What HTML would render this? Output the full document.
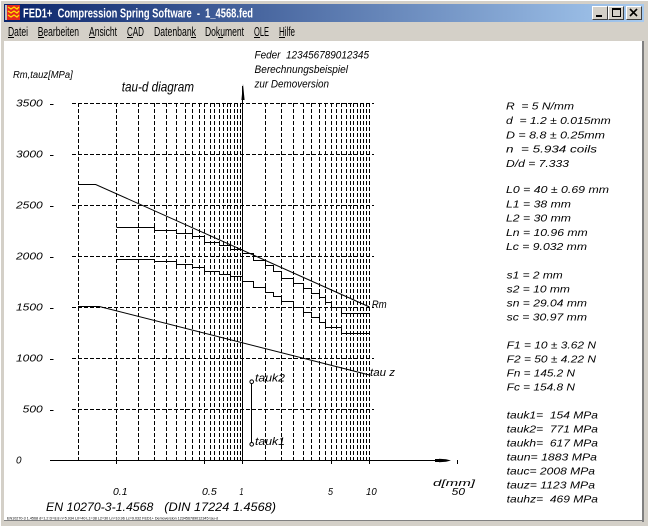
<!DOCTYPE html>
<html><head><meta charset="utf-8"><style>
html,body{margin:0;padding:0;background:#D4D0C8;}
svg{display:block;}
text{white-space:pre;}
.c{font-family:"Liberation Sans",Arial,sans-serif;font-style:italic;fill:#000;}
.m{font-family:"Liberation Sans",Arial,sans-serif;fill:#000;font-size:12.5px;}
</style></head><body>
<svg width="648" height="526" viewBox="0 0 648 526" xmlns="http://www.w3.org/2000/svg">
<defs>
<linearGradient id="tb" x1="0" y1="0" x2="1" y2="0">
<stop offset="0" stop-color="#0A246A"/><stop offset="1" stop-color="#A6CAF0"/>
</linearGradient>
</defs>
<rect x="0" y="0" width="648" height="526" fill="#D4D0C8"/>
<rect x="0" y="0" width="648" height="1" fill="#FFFFFF"/>
<rect x="0" y="0" width="1" height="526" fill="#FFFFFF"/>
<!-- title bar -->
<rect x="4" y="4" width="640" height="18" fill="url(#tb)"/>
<!-- icon -->
<rect x="5" y="5" width="15" height="15" fill="#E4281E"/>
<rect x="5" y="5" width="2" height="15" fill="#C0C0C0"/>
<polyline points="8,7 11,9 14,7 17,9 19,7" fill="none" stroke="#FFE000" stroke-width="1.3"/>
<polyline points="8,11 11,13 14,11 17,13 19,11" fill="none" stroke="#FFE000" stroke-width="1.3"/>
<polyline points="8,15 11,17 14,15 17,17 19,15" fill="none" stroke="#FFE000" stroke-width="1.3"/>
<text x="23" y="17.5" font-family="Liberation Sans, Arial, sans-serif" font-weight="bold" font-size="12.5" fill="#FFFFFF" textLength="230" lengthAdjust="spacingAndGlyphs">FED1+  Compression Spring Software  -  1_4568.fed</text>
<!-- buttons -->
<g shape-rendering="crispEdges">
<rect x="592" y="6" width="16" height="14" fill="#D4D0C8"/>
<path d="M592.5,19.5 V6.5 H607.5" fill="none" stroke="#FFFFFF"/>
<path d="M592.5,19.5 H607.5 V6.5" fill="none" stroke="#404040"/>
<rect x="596" y="15" width="6" height="2" fill="#000"/>
<rect x="608" y="6" width="16" height="14" fill="#D4D0C8"/>
<path d="M608.5,19.5 V6.5 H623.5" fill="none" stroke="#FFFFFF"/>
<path d="M608.5,19.5 H623.5 V6.5" fill="none" stroke="#404040"/>
<rect x="612.5" y="8.5" width="8" height="8" fill="none" stroke="#000"/>
<rect x="612" y="8" width="9" height="2" fill="#000"/>
<rect x="626" y="6" width="16" height="14" fill="#D4D0C8"/>
<path d="M626.5,19.5 V6.5 H641.5" fill="none" stroke="#FFFFFF"/>
<path d="M626.5,19.5 H641.5 V6.5" fill="none" stroke="#404040"/>
</g>
<path d="M630,9 L637,16 M637,9 L630,16" stroke="#000" stroke-width="1.6"/>
<!-- menu -->
<text class="m" x="8" y="36" textLength="20" lengthAdjust="spacingAndGlyphs">Datei</text>
<text class="m" x="37.7" y="36" textLength="41.3" lengthAdjust="spacingAndGlyphs">Bearbeiten</text>
<text class="m" x="89" y="36" textLength="28" lengthAdjust="spacingAndGlyphs">Ansicht</text>
<text class="m" x="127" y="36" textLength="17" lengthAdjust="spacingAndGlyphs">CAD</text>
<text class="m" x="154" y="36" textLength="42" lengthAdjust="spacingAndGlyphs">Datenbank</text>
<text class="m" x="205" y="36" textLength="39" lengthAdjust="spacingAndGlyphs">Dokument</text>
<text class="m" x="254" y="36" textLength="15" lengthAdjust="spacingAndGlyphs">OLE</text>
<text class="m" x="279" y="36" textLength="16" lengthAdjust="spacingAndGlyphs">Hilfe</text>
<g fill="#000" shape-rendering="crispEdges">
<rect x="8" y="37" width="6" height="1"/>
<rect x="38" y="37" width="6" height="1"/>
<rect x="89" y="37" width="6" height="1"/>
<rect x="127" y="37" width="6" height="1"/>
<rect x="191" y="37" width="5" height="1"/>
<rect x="218" y="37" width="5" height="1"/>
<rect x="254" y="37" width="6" height="1"/>
<rect x="279" y="37" width="6" height="1"/>
</g>
<!-- client area -->
<rect x="4" y="41" width="638" height="479" fill="#FFFFFF"/>
<rect x="642" y="41" width="2" height="481" fill="#808080"/>
<rect x="4" y="520" width="640" height="1" fill="#808080"/>
<rect x="644" y="4" width="4" height="522" fill="#D4D0C8"/>

<!-- header text -->
<text class="c" x="254.5" y="58.7" font-size="11" textLength="114.5" lengthAdjust="spacingAndGlyphs">Feder  123456789012345</text>
<text class="c" x="254.5" y="73" font-size="11" textLength="93.5" lengthAdjust="spacingAndGlyphs">Berechnungsbeispiel</text>
<text class="c" x="254.5" y="87.3" font-size="11" textLength="74.5" lengthAdjust="spacingAndGlyphs">zur Demoversion</text>
<text class="c" x="13" y="78" font-size="10" textLength="59.7" lengthAdjust="spacingAndGlyphs">Rm,tauz[MPa]</text>
<text class="c" x="121.7" y="91.5" font-size="14" textLength="72.3" lengthAdjust="spacingAndGlyphs">tau-d diagram</text>

<!-- y labels -->
<g class="c" font-size="10">
<text x="16" y="106.5" textLength="26.7" lengthAdjust="spacingAndGlyphs">3500</text>
<text x="16" y="157.5" textLength="26.7" lengthAdjust="spacingAndGlyphs">3000</text>
<text x="16" y="208.5" textLength="26.7" lengthAdjust="spacingAndGlyphs">2500</text>
<text x="16" y="259.5" textLength="26.7" lengthAdjust="spacingAndGlyphs">2000</text>
<text x="16" y="310.5" textLength="26.7" lengthAdjust="spacingAndGlyphs">1500</text>
<text x="16" y="361.5" textLength="26.7" lengthAdjust="spacingAndGlyphs">1000</text>
<text x="22.7" y="412.5" textLength="20" lengthAdjust="spacingAndGlyphs">500</text>
<text x="16" y="463.5" textLength="5.5" lengthAdjust="spacingAndGlyphs">0</text>
</g>
<path d="M50,104.5 H53.5 M50,155.5 H53.5 M50,206.5 H53.5 M50,257.5 H53.5 M50,308.5 H53.5 M50,359.5 H53.5 M50,410.5 H53.5" stroke="#000" stroke-width="1" shape-rendering="crispEdges"/>

<!-- grid -->
<g stroke="#000" stroke-width="1" fill="none" stroke-dasharray="4 2" shape-rendering="crispEdges">
<path d="M72,103.5 H374 M72,154.5 H374 M72,205.5 H374 M72,256.5 H374 M72,307.5 H374 M72,358.5 H374 M72,409.5 H374"/>
<path d="M78.5,103 V460 M116.5,103 V460 M138.5,103 V460 M154.5,103 V460 M166.5,103 V460 M176.5,103 V460 M185.5,103 V460 M192.5,103 V460 M199.5,103 V460 M204.5,103 V460 M210.5,103 V460 M214.5,103 V460 M219.5,103 V460 M223.5,103 V460 M227.5,103 V460 M230.5,103 V460 M234.5,103 V460 M237.5,103 V460 M240.5,103 V460 M265.5,103 V460 M281.5,103 V460 M293.5,103 V460 M303.5,103 V460 M311.5,103 V460 M319.5,103 V460 M325.5,103 V460 M331.5,103 V460 M336.5,103 V460 M341.5,103 V460 M346.5,103 V460 M350.5,103 V460 M353.5,103 V460 M357.5,103 V460 M360.5,103 V460 M363.5,103 V460 M366.5,103 V460 M369.5,103 V460"/>
</g>

<!-- axes -->
<g stroke="#000" stroke-width="1" fill="none" shape-rendering="crispEdges">
<path d="M242.5,86 V460"/>
<path d="M50,460.5 H440"/>
<path d="M116.5,460 V464 M204.5,460 V464 M242.5,460 V464 M331.5,460 V464 M369.5,460 V464 M457.5,460 V464"/>
<path d="M435,459.5 H440 M435,461.5 H440"/>
</g>
<polygon points="243,84 244.6,100 241.4,100" fill="#000"/>
<polygon points="439,458.8 446,459.2 451,460.5 446,461.8 439,462.2" fill="#000"/>

<!-- x labels -->
<g class="c" font-size="10">
<text x="113" y="495" textLength="14.5" lengthAdjust="spacingAndGlyphs">0.1</text>
<text x="202" y="495" textLength="14.7" lengthAdjust="spacingAndGlyphs">0.5</text>
<text x="239.5" y="495" textLength="4" lengthAdjust="spacingAndGlyphs">1</text>
<text x="328" y="495" textLength="5" lengthAdjust="spacingAndGlyphs">5</text>
<text x="366" y="495" textLength="10.7" lengthAdjust="spacingAndGlyphs">10</text>
<text x="451.7" y="495" textLength="13.3" lengthAdjust="spacingAndGlyphs">50</text>
<text x="433" y="486" font-size="9.5" textLength="42" lengthAdjust="spacingAndGlyphs">d[mm]</text>
</g>
<text class="c" x="46" y="511" font-size="11.5" textLength="107.3" lengthAdjust="spacingAndGlyphs">EN 10270-3-1.4568</text>
<text class="c" x="164.3" y="511" font-size="11.5" textLength="111.7" lengthAdjust="spacingAndGlyphs">(DIN 17224 1.4568)</text>
<text x="7" y="519.5" font-family="Liberation Sans, Arial, sans-serif" font-size="4" fill="#000" textLength="211" lengthAdjust="spacingAndGlyphs">EN10270-3 1.4568 d=1.2 D=8.8 n=5.934 L0=40 L1=38 L2=30 Ln=10.96 Lc=9.032 FED1+ Demoversion 123456789012345 tau-d</text>

<!-- curves -->
<g stroke="#000" stroke-width="1" fill="none">
<path d="M78,184.5 H95.7 L369.5,307"/>
<path d="M78,306.5 H99.3 L369.5,375"/>
</g>
<g stroke="#000" stroke-width="1" fill="none" shape-rendering="crispEdges">
<path d="M116.5,227.5 H154.5 V230.5 H176.5 V233.5 H192.5 V236.5 H204.5 V242.5 H219.5 V245.5 H230.5 V249.5 H242.5 V253.5 H253.5 V260.5 H265.5 V265.5 H273.5 V271.5 H281.5 V278.5 H293.5 V283.5 H303.5 V288.5 H311.5 V293.5 H319.5 V297.5 H325.5 V302.5 H331.5 V307.5 H341.5 V313.5 H369.5"/>
<path d="M116.5,259.5 H154.5 V261.5 H176.5 V264.5 H192.5 V267.5 H204.5 V271.5 H219.5 V274.5 H230.5 V276.5 H242.5 V281.5 H253.5 V287.5 H265.5 V292.5 H273.5 V296.5 H281.5 V301.5 H293.5 V307.5 H303.5 V312.5 H311.5 V317.5 H319.5 V322.5 H325.5 V327.5 H341.5 V333.5 H369.5"/>
<path d="M251.5,382 V444"/>
</g>
<circle cx="251.7" cy="381.7" r="1.8" fill="#FFF" stroke="#000" stroke-width="1"/>
<circle cx="251.7" cy="444.3" r="1.8" fill="#FFF" stroke="#000" stroke-width="1"/>

<g class="c" font-size="11">
<text x="371.7" y="308" textLength="15" lengthAdjust="spacingAndGlyphs">Rm</text>
<text x="370" y="376" textLength="25" lengthAdjust="spacingAndGlyphs">tau z</text>
<text x="255" y="381.7" textLength="30" lengthAdjust="spacingAndGlyphs">tauk2</text>
<text x="255" y="445" textLength="30" lengthAdjust="spacingAndGlyphs">tauk1</text>
</g>

<!-- right panel -->
<g class="c" font-size="10.5">
<text x="506" y="109.5" textLength="68" lengthAdjust="spacingAndGlyphs">R  = 5 N/mm</text>
<text x="506" y="124" textLength="104.7" lengthAdjust="spacingAndGlyphs">d  = 1.2 ± 0.015mm</text>
<text x="506" y="138.5" textLength="99" lengthAdjust="spacingAndGlyphs">D = 8.8 ± 0.25mm</text>
<text x="506" y="152.5" textLength="91" lengthAdjust="spacingAndGlyphs">n  = 5.934 coils</text>
<text x="506" y="167" textLength="63" lengthAdjust="spacingAndGlyphs">D/d = 7.333</text>

<text x="506" y="193" textLength="103" lengthAdjust="spacingAndGlyphs">L0 = 40 ± 0.69 mm</text>
<text x="506" y="207.5" textLength="65" lengthAdjust="spacingAndGlyphs">L1 = 38 mm</text>
<text x="506" y="221.5" textLength="65" lengthAdjust="spacingAndGlyphs">L2 = 30 mm</text>
<text x="506" y="236" textLength="81.7" lengthAdjust="spacingAndGlyphs">Ln = 10.96 mm</text>
<text x="506" y="250" textLength="81" lengthAdjust="spacingAndGlyphs">Lc = 9.032 mm</text>

<text x="506.7" y="278.5" textLength="56" lengthAdjust="spacingAndGlyphs">s1 = 2 mm</text>
<text x="506.7" y="292.5" textLength="63.3" lengthAdjust="spacingAndGlyphs">s2 = 10 mm</text>
<text x="506.7" y="306.5" textLength="80.3" lengthAdjust="spacingAndGlyphs">sn = 29.04 mm</text>
<text x="506.7" y="320.5" textLength="80.3" lengthAdjust="spacingAndGlyphs">sc = 30.97 mm</text>

<text x="506.7" y="348.5" textLength="89.3" lengthAdjust="spacingAndGlyphs">F1 = 10 ± 3.62 N</text>
<text x="506.7" y="362.5" textLength="89.3" lengthAdjust="spacingAndGlyphs">F2 = 50 ± 4.22 N</text>
<text x="506.7" y="376.5" textLength="68.3" lengthAdjust="spacingAndGlyphs">Fn = 145.2 N</text>
<text x="506.7" y="390.5" textLength="68.3" lengthAdjust="spacingAndGlyphs">Fc = 154.8 N</text>

<text x="506.7" y="418.5" textLength="91.3" lengthAdjust="spacingAndGlyphs">tauk1=  154 MPa</text>
<text x="506.7" y="432.5" textLength="91.3" lengthAdjust="spacingAndGlyphs">tauk2=  771 MPa</text>
<text x="506.7" y="446.5" textLength="91.3" lengthAdjust="spacingAndGlyphs">taukh=  617 MPa</text>
<text x="506.7" y="460.5" textLength="90.3" lengthAdjust="spacingAndGlyphs">taun= 1883 MPa</text>
<text x="506.7" y="474.5" textLength="88.3" lengthAdjust="spacingAndGlyphs">tauc= 2008 MPa</text>
<text x="506.7" y="488.5" textLength="88.3" lengthAdjust="spacingAndGlyphs">tauz= 1123 MPa</text>
<text x="506.7" y="502.5" textLength="91.3" lengthAdjust="spacingAndGlyphs">tauhz=  469 MPa</text>
</g>
</svg>
</body></html>
